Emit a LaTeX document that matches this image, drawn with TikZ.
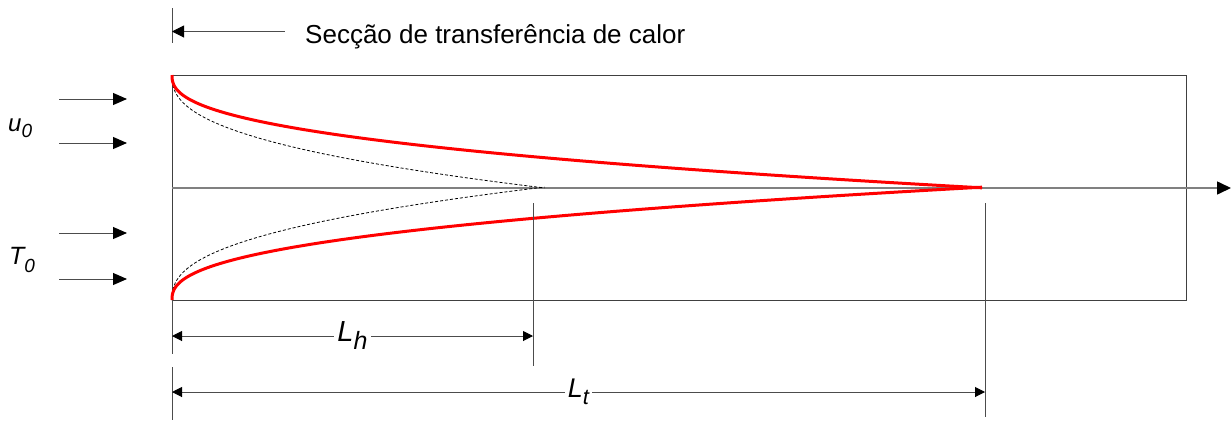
\documentclass[tikz,border=0pt]{standalone}
\usepackage{fontspec}
\setmainfont{Liberation Sans}
\usetikzlibrary{arrows.meta}
\begin{document}
\begin{tikzpicture}[x=1pt,y=-1pt,
  inflow/.style={line width=1pt, black!70, -{Triangle[length=14pt,width=12pt,color=black]}},
  dimline/.style={line width=1pt, black!70, {Triangle[length=10pt,width=10pt,color=black]}-{Triangle[length=10pt,width=10pt,color=black]}},
  leftonly/.style={line width=1pt, black!70, {Triangle[length=12pt,width=12pt,color=black]}-},
  axisline/.style={line width=1.6pt, black!50, -{Triangle[length=14pt,width=13pt,color=black]}},
  tick/.style={line width=1pt, black!70},
  ductbox/.style={draw=black!75, line width=1.2pt, inner sep=0pt, minimum width=1014pt, minimum height=225pt, anchor=north west},
  redcurve/.style={red, line width=3pt},
  dashcurve/.style={black, line width=0.8pt, dash pattern=on 3pt off 2pt},
  lab/.style={inner sep=0pt, text=black},
  dimlab/.style={fill=white, inner sep=3pt, text=black}]
\useasboundingbox (0,0) rectangle (1231,421);

% duct
\node[ductbox] (duct) at (172,75) {};
\coordinate (tl) at (172,75);
\coordinate (bl) at (172,300);

% axis
\coordinate (axL) at (172,188);
\coordinate (axR) at (1231,188);
\draw[axisline] (axL) -- (axR);

% dashed curves
\draw[dashcurve] plot[domain=0:1, samples=80] ({172+373*\x*\x*sqrt(\x)}, {75+113*\x});
\draw[dashcurve] plot[domain=0:1, samples=80] ({172+373*\x*\x*sqrt(\x)}, {300-113*\x});

% red curves
\draw[redcurve] plot[domain=0:1, samples=100] ({172+813*\x*\x*sqrt(\x)}, {75+113*\x});
\draw[redcurve] plot[domain=0:1, samples=100] ({172+813*\x*\x*sqrt(\x)}, {300-113*\x});

% vertical extension lines
\coordinate (t1) at (172,8);
\coordinate (t2) at (172,43);
\draw[tick] (t1) -- (t2);
\coordinate (l1) at (172,354);
\coordinate (l2) at (172,367);
\coordinate (l3) at (172,420);
\draw[tick] (bl) -- (l1);
\draw[tick] (l2) -- (l3);
\coordinate (h1) at (533,203);
\coordinate (h2) at (533,366);
\draw[tick] (h1) -- (h2);
\coordinate (e1) at (985,203);
\coordinate (e2) at (985,417);
\draw[tick] (e1) -- (e2);

% top arrow and title
\coordinate (sa) at (172,31.5);
\coordinate (sb) at (285,31.5);
\draw[leftonly] (sa) -- (sb);
\node[lab, anchor=base west, font=\fontsize{26}{30}\selectfont] (title) at (305,43) {Secção de transferência de calor};

% inflow arrows
\foreach \yy/\nm in {99/a,143/b,233/c,279/d}{
  \coordinate (in\nm) at (59,\yy);
  \coordinate (out\nm) at (127,\yy);
  \draw[inflow] (in\nm) -- (out\nm);
}
\node[lab, anchor=base west, font=\fontsize{24}{28}\selectfont\itshape] (u0) at (8,131) {u\raisebox{-6pt}{\fontsize{19}{22}\selectfont 0}};
\node[lab, anchor=base west, font=\fontsize{25}{28}\selectfont\itshape] (T0) at (9,264) {T\raisebox{-8pt}{\fontsize{19}{22}\selectfont 0}};

% dimension lines
\coordinate (dh0) at (172,336);
\coordinate (dh1) at (533,336);
\draw[dimline] (dh0) -- node[dimlab, font=\fontsize{29}{32}\selectfont\itshape] (Lh) {L\raisebox{-8pt}{\fontsize{25}{28}\selectfont h}} (dh1);
\coordinate (dt0) at (172,392);
\coordinate (dt1) at (985,392);
\draw[dimline] (dt0) -- node[dimlab, font=\fontsize{27}{32}\selectfont\itshape] (Lt) {L\raisebox{-7pt}{\fontsize{22}{28}\selectfont t}} (dt1);
\end{tikzpicture}
\end{document}
